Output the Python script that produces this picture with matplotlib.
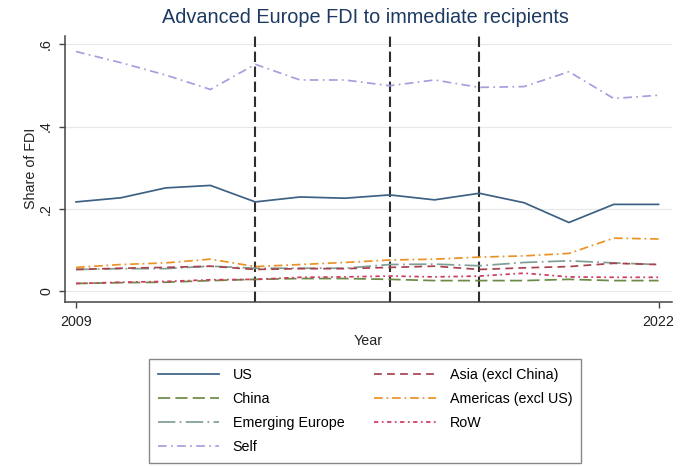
import matplotlib
matplotlib.use('Agg')
import matplotlib.pyplot as plt

plt.rcParams['font.family'] = ['Liberation Sans', 'DejaVu Sans']

# data
years = list(range(2009, 2023))
us = [0.217, 0.227, 0.251, 0.257, 0.217, 0.229, 0.226, 0.234, 0.222, 0.238, 0.215, 0.167, 0.211, 0.211]
china = [0.019, 0.021, 0.022, 0.026, 0.029, 0.031, 0.031, 0.029, 0.026, 0.026, 0.026, 0.029, 0.026, 0.026]
emerging_europe = [0.053, 0.055, 0.055, 0.061, 0.056, 0.056, 0.056, 0.065, 0.066, 0.062, 0.070, 0.074, 0.069, 0.065]
self_share = [0.582, 0.555, 0.525, 0.490, 0.551, 0.513, 0.513, 0.499, 0.513, 0.495, 0.497, 0.533, 0.468, 0.476]
asia = [0.053, 0.056, 0.058, 0.061, 0.053, 0.055, 0.055, 0.058, 0.061, 0.053, 0.057, 0.060, 0.068, 0.065]
americas = [0.058, 0.065, 0.069, 0.078, 0.060, 0.065, 0.070, 0.076, 0.078, 0.083, 0.086, 0.092, 0.129, 0.127]
rest_of_world = [0.019, 0.022, 0.024, 0.028, 0.029, 0.034, 0.035, 0.037, 0.035, 0.037, 0.044, 0.035, 0.034, 0.034]
event_years = [2013, 2016, 2018]
yticks = [0, 0.2, 0.4, 0.6]
yticklabels = ['0', '.2', '.4', '.6']
xticks = [2009, 2022]

fig = plt.figure(figsize=(6.85, 4.66), dpi=100)
ax = fig.add_axes([0.0949, 0.3526, 0.8861, 0.5701])

ax.set_xlim(2008.754, 2022.30)
ax.set_ylim(-0.0252, 0.6197)

for y in yticks:
    ax.axhline(y, color='#e6e8ea', lw=0.9, zorder=0)

for x in event_years:
    ax.axvline(x, color='#2e2e2e', lw=1.5, dashes=(5, 2.2), zorder=1)

lw = 1.25
series = [
    ('US', us, '#3d6183', '-'),
    ('China', china, '#6b8a45', (0, (7, 3))),
    ('Emerging Europe', emerging_europe, '#7f9e94', (0, (10, 2.5, 1, 2.5))),
    ('Self', self_share, '#a4a0de', (0, (5, 2.5, 1, 2.5))),
    ('Asia (excl China)', asia, '#a8434e', (0, (4.5, 3))),
    ('Americas (excl US)', americas, '#eb9224', (0, (5, 2.2, 1, 2.2))),
    ('RoW', rest_of_world, '#cf3a62', (0, (2.5, 2, 1, 2))),
]
handles = []
for name, vals, color, ls in series:
    h, = ax.plot(years, vals, color=color, lw=lw, linestyle=ls, label=name, zorder=2)
    handles.append(h)

for side in ['top', 'right']:
    ax.spines[side].set_visible(False)
for side in ['left', 'bottom']:
    ax.spines[side].set_color('#444444')
    ax.spines[side].set_linewidth(1.1)

ax.set_yticks(yticks)
ax.set_yticklabels(yticklabels)
ax.set_xticks(xticks)
ax.tick_params(axis='both', colors='#444444', labelcolor='#222222', length=4.5, width=1.0, labelsize=10.3)
ax.tick_params(axis='y', labelrotation=90, pad=4)
ax.tick_params(axis='x', pad=5)
for lab in ax.get_yticklabels():
    lab.set_va('center')

ax.set_xlabel('Year', fontsize=10.3, color='#222222', labelpad=4)
ax.set_ylabel('Share of FDI', fontsize=10.3, color='#222222', labelpad=1)
fig.text(0.533, 0.962, 'Advanced Europe FDI to immediate recipients', ha='center', va='center',
         fontsize=14.3, color='#1c3a62')

leg = fig.legend(handles=handles, loc='upper left', bbox_to_anchor=(0.2175, 0.2296), ncol=2,
                 fontsize=10.3, frameon=True, fancybox=False, edgecolor='#6a6a6a',
                 handlelength=4.3, handletextpad=0.95, columnspacing=2.1,
                 labelspacing=0.72, borderpad=0.6, borderaxespad=0)
leg.get_frame().set_linewidth(1.0)

fig.savefig('out.png', dpi=100, facecolor='white')
